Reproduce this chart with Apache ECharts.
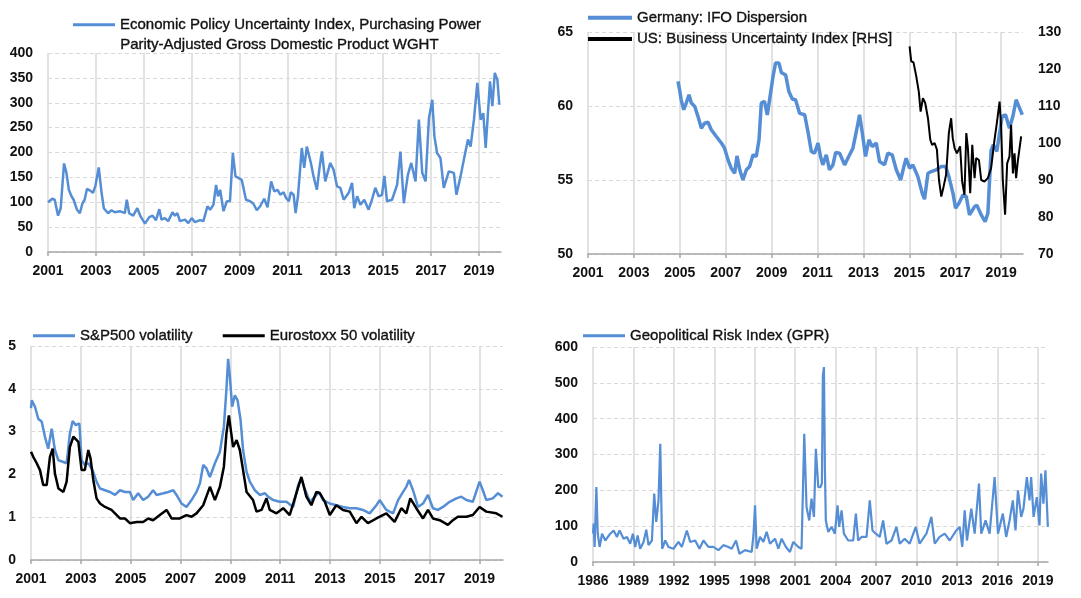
<!DOCTYPE html>
<html><head><meta charset="utf-8">
<script src="https://cdn.jsdelivr.net/npm/echarts@6/dist/echarts.min.js"></script>
<style>html,body{margin:0;padding:0;background:#fff}#c{width:1081px;height:598px}</style>
</head><body><div id="c"></div>
<script>
// ---------- Panel 1: Economic Policy Uncertainty ----------
const epuYears = [2001.00,2001.07,2001.18,2001.28,2001.42,2001.53,2001.60,2001.67,2001.77,2001.87,2001.98,2002.07,2002.21,2002.33,2002.44,2002.53,2002.63,2002.74,2002.88,2002.98,2003.12,2003.23,2003.33,2003.51,2003.65,2003.79,2004.00,2004.21,2004.29,2004.39,2004.56,2004.73,2004.86,2005.05,2005.23,2005.37,2005.51,2005.65,2005.74,2005.88,2006.02,2006.20,2006.30,2006.40,2006.51,2006.72,2006.86,2007.00,2007.14,2007.35,2007.49,2007.66,2007.77,2007.91,2008.02,2008.10,2008.19,2008.33,2008.47,2008.60,2008.72,2008.83,2008.95,2009.09,2009.27,2009.44,2009.58,2009.72,2009.86,2010.03,2010.17,2010.32,2010.45,2010.59,2010.70,2010.84,2010.95,2011.06,2011.14,2011.26,2011.34,2011.44,2011.60,2011.70,2011.81,2011.98,2012.09,2012.23,2012.34,2012.44,2012.58,2012.79,2012.93,2013.07,2013.21,2013.35,2013.56,2013.70,2013.79,2013.91,2014.05,2014.21,2014.39,2014.53,2014.67,2014.81,2014.95,2015.05,2015.16,2015.37,2015.58,2015.72,2015.86,2016.03,2016.17,2016.35,2016.49,2016.63,2016.77,2016.91,2017.05,2017.14,2017.25,2017.39,2017.53,2017.74,2017.95,2018.06,2018.23,2018.37,2018.54,2018.65,2018.79,2018.93,2019.07,2019.18,2019.28,2019.46,2019.56,2019.66,2019.77,2019.85];
const epuValues = [100,97,107,105,73,88,85,178,159,125,112,105,85,78,98,105,127,124,119,133,170,122,88,78,84,80,82,78,105,78,73,88,72,57,70,73,64,86,65,68,62,80,73,78,62,65,58,68,60,64,62,92,85,95,135,112,125,82,102,102,199,152,149,145,105,102,97,84,92,107,90,142,122,125,115,120,108,102,120,115,78,112,209,169,212,179,152,125,169,202,142,179,165,132,129,105,119,139,88,112,95,105,85,105,129,112,115,153,102,105,135,202,98,155,179,142,266,159,142,269,306,232,199,189,129,162,159,115,152,186,226,212,266,340,266,279,209,343,293,360,346,296];

// ---------- Panel 2: IFO dispersion (LHS) & US Business Uncertainty (RHS) ----------
const ifoYears = [2004.92,2004.99,2005.06,2005.17,2005.28,2005.40,2005.50,2005.65,2005.79,2005.94,2006.08,2006.23,2006.37,2006.59,2006.81,2006.95,2007.10,2007.24,2007.39,2007.49,2007.61,2007.75,2007.90,2008.04,2008.19,2008.33,2008.45,2008.55,2008.69,2008.81,2008.91,2009.06,2009.17,2009.32,2009.42,2009.61,2009.75,2009.90,2010.04,2010.22,2010.44,2010.58,2010.73,2010.87,2011.02,2011.13,2011.23,2011.38,2011.52,2011.67,2011.79,2011.96,2012.18,2012.32,2012.54,2012.69,2012.83,2012.95,2013.09,2013.24,2013.38,2013.56,2013.70,2013.92,2014.06,2014.25,2014.43,2014.62,2014.76,2014.86,2015.01,2015.15,2015.37,2015.56,2015.66,2015.81,2015.95,2016.17,2016.39,2016.58,2016.72,2016.90,2017.01,2017.16,2017.33,2017.48,2017.62,2017.84,2017.94,2018.13,2018.30,2018.42,2018.56,2018.66,2018.81,2018.93,2019.04,2019.19,2019.36,2019.51,2019.65,2019.80,2019.92];
const ifoValues = [61.66,61.1,60.4,59.75,60.2,60.76,60.2,59.97,59.3,58.5,58.84,58.9,58.4,57.94,57.5,57.15,56.36,55.8,55.46,56.63,55.69,55.0,55.69,55.91,56.7,56.59,57.72,60.2,60.31,59.4,60.42,62.0,62.9,62.9,62.27,62.1,60.98,60.47,60.42,59.5,59.41,58.28,56.93,56.81,57.49,56.59,56.02,56.7,55.69,56.02,56.86,56.81,56.02,56.47,57.15,58.28,59.41,58.17,56.59,57.72,57.26,57.49,56.25,56.02,56.81,56.7,55.69,55.0,55.91,56.47,55.8,56.02,55.23,54.1,53.7,55.46,55.57,55.69,55.91,55.91,55.23,54.1,53.1,53.43,53.99,53.88,52.64,53.2,53.3,52.64,52.19,52.75,57.0,57.38,56.93,58.17,59.3,59.41,58.5,59.3,60.42,59.86,59.41];
const buiYears = [2015.01,2015.08,2015.18,2015.30,2015.41,2015.49,2015.59,2015.69,2015.81,2015.91,2015.99,2016.10,2016.20,2016.29,2016.39,2016.49,2016.60,2016.72,2016.82,2016.89,2016.97,2017.07,2017.21,2017.30,2017.40,2017.48,2017.55,2017.65,2017.74,2017.84,2017.91,2018.03,2018.13,2018.27,2018.42,2018.56,2018.71,2018.81,2018.93,2019.00,2019.07,2019.17,2019.26,2019.36,2019.43,2019.51,2019.58,2019.65,2019.73,2019.80,2019.87];
const buiValues = [126.1,122.1,121.8,118,113.9,108.5,112.1,110.8,106.7,100.9,99.5,100,98.2,90,85.5,88.2,91.4,102.7,106.7,101.3,98.6,97.2,99.1,89.6,86,102.7,98.6,86.4,99.5,90.5,95.9,95.4,90,89.6,90.5,93.2,100.9,105.4,111.2,104,90,80.6,94.5,96.3,104.9,91.8,97.2,90.5,95.4,95.4,101.8];

// ---------- Panel 3: Equity volatility ----------
const spxYears = [2001.00,2001.03,2001.16,2001.29,2001.43,2001.56,2001.69,2001.83,2001.96,2002.10,2002.30,2002.43,2002.56,2002.67,2002.80,2002.94,2003.03,2003.16,2003.30,2003.47,2003.63,2003.77,2003.97,2004.17,2004.37,2004.57,2004.77,2004.97,2005.10,2005.30,2005.50,2005.70,2005.90,2006.04,2006.31,2006.51,2006.71,2006.84,2007.04,2007.24,2007.44,2007.64,2007.78,2007.91,2008.04,2008.18,2008.38,2008.58,2008.74,2008.84,2008.91,2008.98,2009.07,2009.18,2009.29,2009.41,2009.51,2009.65,2009.78,2009.98,2010.18,2010.38,2010.51,2010.72,2010.98,2011.25,2011.52,2011.72,2011.85,2011.98,2012.19,2012.39,2012.56,2012.72,2012.99,2013.25,2013.52,2013.79,2014.06,2014.32,2014.59,2014.86,2014.99,2015.26,2015.53,2015.73,2015.93,2016.06,2016.17,2016.33,2016.53,2016.73,2016.93,2017.13,2017.33,2017.53,2017.80,2018.07,2018.27,2018.47,2018.73,2019.00,2019.13,2019.27,2019.53,2019.74,2019.92];
const spxValues = [3.55,3.73,3.58,3.3,3.23,2.88,2.6,3.07,2.57,2.33,2.29,2.26,2.95,3.25,3.15,3.19,2.33,2.22,2.26,2.1,1.83,1.67,1.63,1.59,1.52,1.63,1.59,1.59,1.4,1.56,1.4,1.48,1.63,1.52,1.56,1.59,1.63,1.52,1.32,1.24,1.4,1.59,1.79,2.22,2.14,1.94,2.26,2.53,3.11,3.97,4.7,4.28,3.58,3.85,3.73,3.27,2.57,2.06,1.83,1.63,1.52,1.56,1.48,1.4,1.36,1.36,1.24,1.75,1.91,1.67,1.36,1.48,1.59,1.4,1.32,1.28,1.24,1.21,1.21,1.17,1.09,1.28,1.4,1.17,1.09,1.4,1.59,1.71,1.87,1.63,1.24,1.32,1.52,1.21,1.17,1.24,1.36,1.44,1.48,1.4,1.36,1.83,1.63,1.4,1.44,1.56,1.48];
const sx5eYears = [2001.00,2001.09,2001.23,2001.36,2001.49,2001.63,2001.76,2001.87,2001.96,2002.10,2002.30,2002.43,2002.56,2002.70,2002.90,2003.03,2003.16,2003.30,2003.39,2003.50,2003.63,2003.77,2003.97,2004.23,2004.37,2004.57,2004.77,2004.97,2005.24,2005.50,2005.70,2005.90,2006.17,2006.44,2006.64,2006.97,2007.24,2007.44,2007.64,2007.91,2008.18,2008.38,2008.58,2008.74,2008.84,2008.94,2009.02,2009.11,2009.25,2009.38,2009.51,2009.65,2009.91,2010.05,2010.25,2010.45,2010.58,2010.85,2011.12,2011.38,2011.65,2011.85,2012.05,2012.25,2012.45,2012.59,2012.79,2012.99,2013.25,2013.52,2013.79,2014.06,2014.26,2014.52,2014.86,2015.26,2015.59,2015.86,2016.06,2016.22,2016.46,2016.73,2016.93,2017.13,2017.40,2017.73,2017.93,2018.13,2018.47,2018.73,2019.00,2019.27,2019.67,2019.92];
const sx5eValues = [2.53,2.41,2.26,2.1,1.75,1.75,2.41,2.6,2.02,1.67,1.59,1.83,2.64,2.88,2.76,2.1,2.1,2.57,2.37,1.87,1.44,1.32,1.24,1.17,1.09,0.97,0.97,0.86,0.89,0.89,0.97,0.93,1.05,1.17,0.97,0.97,1.05,1.01,1.09,1.28,1.71,1.4,1.71,2.18,2.95,3.38,3.03,2.64,2.8,2.57,2.1,1.59,1.4,1.13,1.17,1.44,1.17,1.09,1.21,1.05,1.56,1.94,1.48,1.28,1.59,1.56,1.36,1.05,1.28,1.17,1.13,0.86,1.01,0.86,0.97,1.09,0.89,1.21,1.09,1.44,1.21,0.97,1.17,0.97,0.93,0.82,0.93,1.01,1.01,1.05,1.24,1.13,1.09,1.01];

// ---------- Panel 4: Geopolitical Risk Index ----------
const gprYears = [1986.00,1986.05,1986.12,1986.25,1986.35,1986.49,1986.67,1986.91,1987.28,1987.53,1987.78,1987.97,1988.27,1988.52,1988.76,1988.96,1989.13,1989.31,1989.50,1989.75,1989.95,1990.12,1990.37,1990.54,1990.69,1990.86,1990.99,1991.13,1991.36,1991.60,1991.97,1992.34,1992.59,1992.96,1993.21,1993.58,1993.90,1994.19,1994.56,1994.93,1995.30,1995.67,1996.04,1996.29,1996.61,1996.86,1997.28,1997.77,1997.90,1998.02,1998.14,1998.39,1998.64,1998.88,1999.13,1999.50,1999.75,1999.99,2000.31,2000.61,2000.86,2001.23,2001.47,2001.58,2001.67,2001.84,2002.04,2002.21,2002.39,2002.53,2002.71,2002.88,2002.98,2003.05,2003.13,2003.20,2003.27,2003.45,2003.70,2003.94,2004.14,2004.26,2004.44,2004.61,2004.93,2005.30,2005.50,2005.67,2005.92,2006.29,2006.53,2006.73,2006.98,2007.27,2007.52,2007.77,2008.14,2008.51,2008.75,2009.12,2009.49,2009.94,2010.23,2010.73,2011.10,2011.35,2011.71,2012.09,2012.46,2012.95,2013.20,2013.39,2013.57,2013.74,2014.06,2014.31,2014.63,2014.80,2015.12,2015.42,2015.79,2016.04,2016.40,2016.65,2016.90,2017.14,2017.34,2017.52,2017.76,2017.93,2018.18,2018.38,2018.50,2018.68,2018.92,2019.12,2019.24,2019.41,2019.56,2019.74];
const gprValues = [79,107,42,209,79,42,79,60,79,88,70,88,65,70,51,79,42,74,37,56,90,47,60,191,112,172,330,37,60,42,37,56,42,88,56,60,37,60,42,42,33,47,42,37,60,23,33,28,74,158,37,70,56,84,51,65,37,65,42,28,56,42,37,40,358,153,116,177,126,316,209,209,220,520,544,265,116,84,98,79,158,98,144,79,60,60,135,60,70,70,172,88,79,70,116,51,60,98,51,65,51,98,51,79,126,51,70,79,60,88,98,42,144,60,149,79,219,79,116,79,237,79,135,70,116,172,88,200,126,149,237,172,237,126,181,102,247,163,256,98];

// ---------- legend text ----------
const epuName = 'Economic Policy Uncertainty Index, Purchasing Power Parity-Adjusted Gross Domestic Product WGHT';
const epuLegendLine1 = 'Economic Policy Uncertainty Index, Purchasing Power';
const epuLegendLine2 = 'Parity-Adjusted Gross Domestic Product WGHT';
const ifoName = 'Germany: IFO Dispersion';
const buiName = 'US: Business Uncertainty Index [RHS]';
const spxName = 'S&P500 volatility';
const sx5eName = 'Eurostoxx 50 volatility';
const gprName = 'Geopolitical Risk Index (GPR)';

const BLUE = '#558ed5';
const FONT = 'Liberation Sans, Arial, sans-serif';
const zip = (xs, ys) => xs.slice(0, Math.min(xs.length, ys.length)).map((x, i) => [x, ys[i]]);

const tickText = { fontSize: 14, fontWeight: 'bold', color: '#111', fontFamily: FONT };
function xAxis(gridIndex, min, max, interval) {
  return {
    type: 'value', gridIndex, min, max, interval,
    axisLine: { show: true, onZero: false, lineStyle: { color: '#a6a6a6', width: 1.5 } },
    axisTick: { show: true, length: 4, lineStyle: { color: '#a6a6a6', width: 1.5 } },
    axisLabel: Object.assign({ margin: 12, showMaxLabel: false,
      formatter: v => (Math.abs(v - Math.round(v)) < 1e-6 ? String(Math.round(v)) : '') }, tickText),
    splitLine: { show: true, showMaxLine: false, lineStyle: { color: '#d9d9d9', width: 1.5 } }
  };
}
function yAxis(gridIndex, min, max, interval, position, split) {
  return {
    type: 'value', gridIndex, min, max, interval, position,
    axisLine: { show: false }, axisTick: { show: false },
    axisLabel: Object.assign({ margin: 15 }, tickText),
    splitLine: { show: split, lineStyle: { type: [4, 3], color: '#d9d9d9', width: 1.2 } }
  };
}
function line(name, xi, yi, data, color, width) {
  return { name, type: 'line', xAxisIndex: xi, yAxisIndex: yi, data, showSymbol: false, symbol: 'none',
    lineStyle: { color, width }, itemStyle: { color }, z: 3 };
}
const legendText = { fontSize: 15, color: '#111', fontFamily: FONT, textBorderColor: '#111', textBorderWidth: 0.35 };

const option = {
  animation: false,
  backgroundColor: '#fff',
  grid: [
    { left: 48, right: 580, top: 53, bottom: 346 },
    { left: 588, right: 58, top: 32, bottom: 344 },
    { left: 31, right: 578, top: 346, bottom: 38 },
    { left: 593, right: 33, top: 347, bottom: 36 }
  ],
  xAxis: [
    xAxis(0, 2001, 2019.92, 2),
    xAxis(1, 2001, 2019.95, 2),
    xAxis(2, 2001, 2019.94, 2),
    xAxis(3, 1986, 2019.75, 3)
  ],
  yAxis: [
    yAxis(0, 0, 400, 50, 'left', true),
    yAxis(1, 50, 65, 5, 'left', true),
    yAxis(1, 70, 130, 10, 'right', false),
    yAxis(2, 0, 5, 1, 'left', true),
    yAxis(3, 0, 600, 100, 'left', true)
  ],
  legend: [
    { left: 73, top: 17, padding: 0, icon: 'rect', itemWidth: 42, itemHeight: 3,
      data: [epuName], formatter: () => epuLegendLine1, textStyle: legendText },
    { left: 588, top: 10, padding: 0, orient: 'vertical', itemGap: 6, icon: 'rect', itemWidth: 44, itemHeight: 4,
      data: [ifoName, buiName], textStyle: legendText },
    { left: 33, top: 328, padding: 0, itemGap: 30, icon: 'rect', itemWidth: 42, itemHeight: 3,
      data: [spxName, sx5eName], textStyle: legendText },
    { left: 583, top: 328, padding: 0, icon: 'rect', itemWidth: 42, itemHeight: 3,
      data: [gprName], textStyle: legendText }
  ],
  graphic: [
    { type: 'text', left: 120, top: 37,
      style: { text: epuLegendLine2, font: '15px ' + FONT, fill: '#111', stroke: '#111', lineWidth: 0.35 } }
  ],
  series: [
    line(epuName, 0, 0, zip(epuYears, epuValues), BLUE, 2.5),
    line(ifoName, 1, 1, zip(ifoYears, ifoValues), BLUE, 3.5),
    line(buiName, 1, 2, zip(buiYears, buiValues), '#000', 2),
    line(spxName, 2, 3, zip(spxYears, spxValues), BLUE, 2.5),
    line(sx5eName, 2, 3, zip(sx5eYears, sx5eValues), '#000', 2.5),
    line(gprName, 3, 4, zip(gprYears, gprValues), BLUE, 2.2)
  ]
};
const chart = echarts.init(document.getElementById('c'), null, { renderer: 'canvas' });
chart.setOption(option);
</script>
</body></html>
